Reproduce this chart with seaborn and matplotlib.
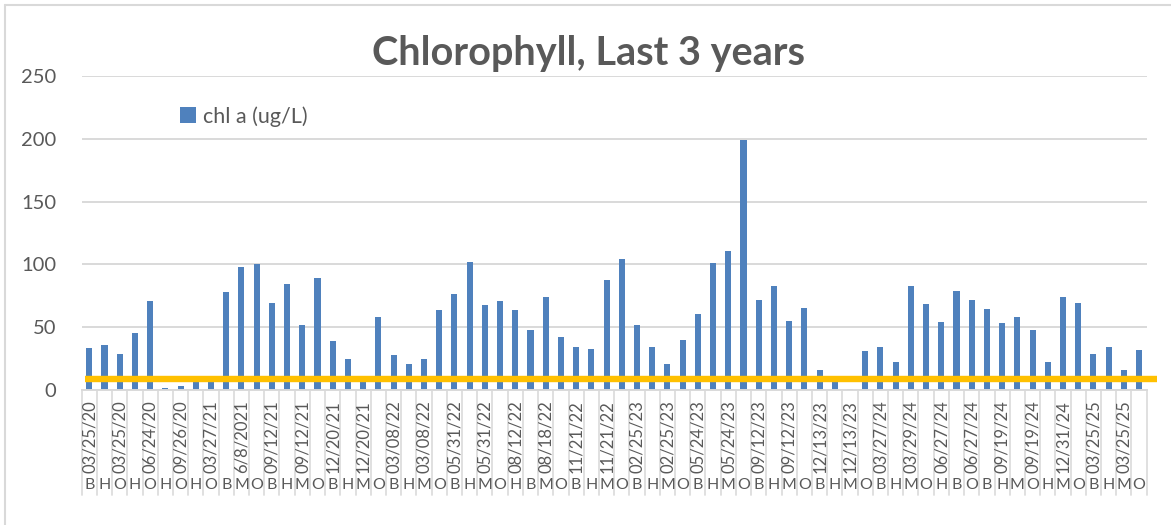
import numpy as np
import pandas as pd
import matplotlib
matplotlib.use("Agg")
import matplotlib.pyplot as plt
import seaborn as sns
from matplotlib.patches import Patch
from matplotlib.lines import Line2D
from matplotlib.transforms import blended_transform_factory

# ---------------- data ----------------
sites = ["B", "H", "O", "H", "O", "H", "O", "H", "O", "B",
         "M", "O", "B", "H", "M", "O", "B", "H", "M", "O",
         "B", "H", "M", "O", "B", "H", "M", "O", "H", "B",
         "M", "O", "B", "H", "M", "O", "B", "H", "M", "O",
         "B", "H", "M", "O", "B", "H", "M", "O", "B", "H",
         "M", "O", "B", "H", "M", "O", "H", "B", "O", "B",
         "H", "M", "O", "H", "M", "O", "B", "H", "M", "O"]

# date label shown on every other category (Excel label skip of 2)
date_labels = ["03/25/20", "03/25/20", "06/24/20", "09/26/20", "03/27/21",
               "6/8/2021", "09/12/21", "09/12/21", "12/20/21", "12/20/21",
               "03/08/22", "03/08/22", "05/31/22", "05/31/22", "08/12/22",
               "08/18/22", "11/21/22", "11/21/22", "02/25/23", "02/25/23",
               "05/24/23", "05/24/23", "09/12/23", "09/12/23", "12/13/23",
               "12/13/23", "03/27/24", "03/29/24", "06/27/24", "06/27/24",
               "09/19/24", "09/19/24", "12/31/24", "03/25/25", "03/25/25"]

chl_a = [33.5, 36, 29, 45, 70.5, 1.5, 3.5, 6, 6.5, 78,
         98, 100, 69, 84, 52, 89, 39, 24.5, 7, 58,
         28, 20.5, 25, 64, 76.5, 102, 68, 71, 64, 48,
         74, 42.5, 34.5, 33, 87.5, 104, 51.5, 34.5, 21, 39.5,
         60.5, 101.5, 110.5, 199, 72, 82.5, 55, 65.5, 16, 6.5,
         1, 31, 34.5, 22, 83, 68.5, 54, 78.5, 72, 64.5,
         53, 58, 48, 22, 74, 69.5, 28.5, 34.5, 16, 32]

threshold = 9
title = "Chlorophyll, Last 3 years"
series_name = "chl a (ug/L)"

# ---------------- style ----------------
sns.set_theme(style="white")
plt.rcParams["font.family"] = ["Lato", "DejaVu Sans"]

W, H = 1171, 525
fig = plt.figure(figsize=(W / 100, H / 100), dpi=100)
fig.patch.set_facecolor("white")

left_px, right_px, top_px, bottom_px = 81.7, 1146.7, 76, 390
ax = fig.add_axes([left_px / W, 1 - bottom_px / H,
                   (right_px - left_px) / W, (bottom_px - top_px) / H])
ax_h = bottom_px - top_px

n = len(chl_a)
df = pd.DataFrame({"pos": [str(i) for i in range(n)], "chl": chl_a})
bar_color = "#4F81BD"
sns.barplot(data=df, x="pos", y="chl", color=bar_color, width=0.4,
            saturation=1, ax=ax, zorder=2, linewidth=0)

ax.set_xlim(-0.5, n - 0.5)
ax.set_ylim(0, 250)
ax.set_yticks(np.arange(0, 251, 50))
ax.yaxis.grid(True, color="#D9D9D9", linewidth=1.4)
ax.set_axisbelow(True)
ax.tick_params(axis="y", length=0, pad=18.5, labelsize=14.5, labelcolor="#595959")
ax.tick_params(axis="x", length=0, labelbottom=False)
ax.set_xlabel("")
ax.set_ylabel("")
for s in ["top", "right", "left"]:
    ax.spines[s].set_visible(False)
ax.spines["bottom"].set_color("#D9D9D9")
ax.spines["bottom"].set_linewidth(1.4)

# threshold line
ax.plot([-0.28, n + 0.2], [threshold, threshold], color="#FFC000",
        linewidth=4.6, solid_capstyle="butt", clip_on=False, zorder=3)

# category axis labels (two levels)
tr = blended_transform_factory(ax.transData, ax.transAxes)
for k, lab in enumerate(date_labels):
    ax.text(2 * k + 0.02, -10 / ax_h, lab, transform=tr, rotation=90,
            ha="center", va="top", fontsize=12, color="#595959")
for i, s in enumerate(sites):
    ax.text(i, -95 / ax_h, s, transform=tr, ha="center", va="center",
            fontsize=11.5, color="#595959")
for b in np.arange(-0.5, n, 1.0):
    ax.plot([b, b], [0, -105 / ax_h], transform=tr, color="#DDDDDD",
            linewidth=1.3, clip_on=False, zorder=1)

# title
fig.text(588 / W, 1 - 53 / H, title, ha="center", va="center",
         fontsize=28.5, fontweight="bold", color="#595959")

# legend
handle = Patch(facecolor=bar_color, edgecolor="none", label=series_name)
ax.legend(handles=[handle], loc="upper left",
          bbox_to_anchor=(180 / W, 1 - 106 / H), bbox_transform=fig.transFigure,
          frameon=False, fontsize=15.5, handlelength=0.75, handleheight=0.75,
          handletextpad=0.3, borderpad=0, borderaxespad=0,
          labelcolor="#595959")

# chart frame (left and top edges visible)
fig.add_artist(Line2D([5 / W, 5 / W], [0, 1 - 5 / H], transform=fig.transFigure,
                      color="#D9D9D9", linewidth=1.5))
fig.add_artist(Line2D([5 / W, 1], [1 - 5 / H, 1 - 5 / H], transform=fig.transFigure,
                      color="#D9D9D9", linewidth=1.5))

fig.savefig("out.png", dpi=100, facecolor="white")
